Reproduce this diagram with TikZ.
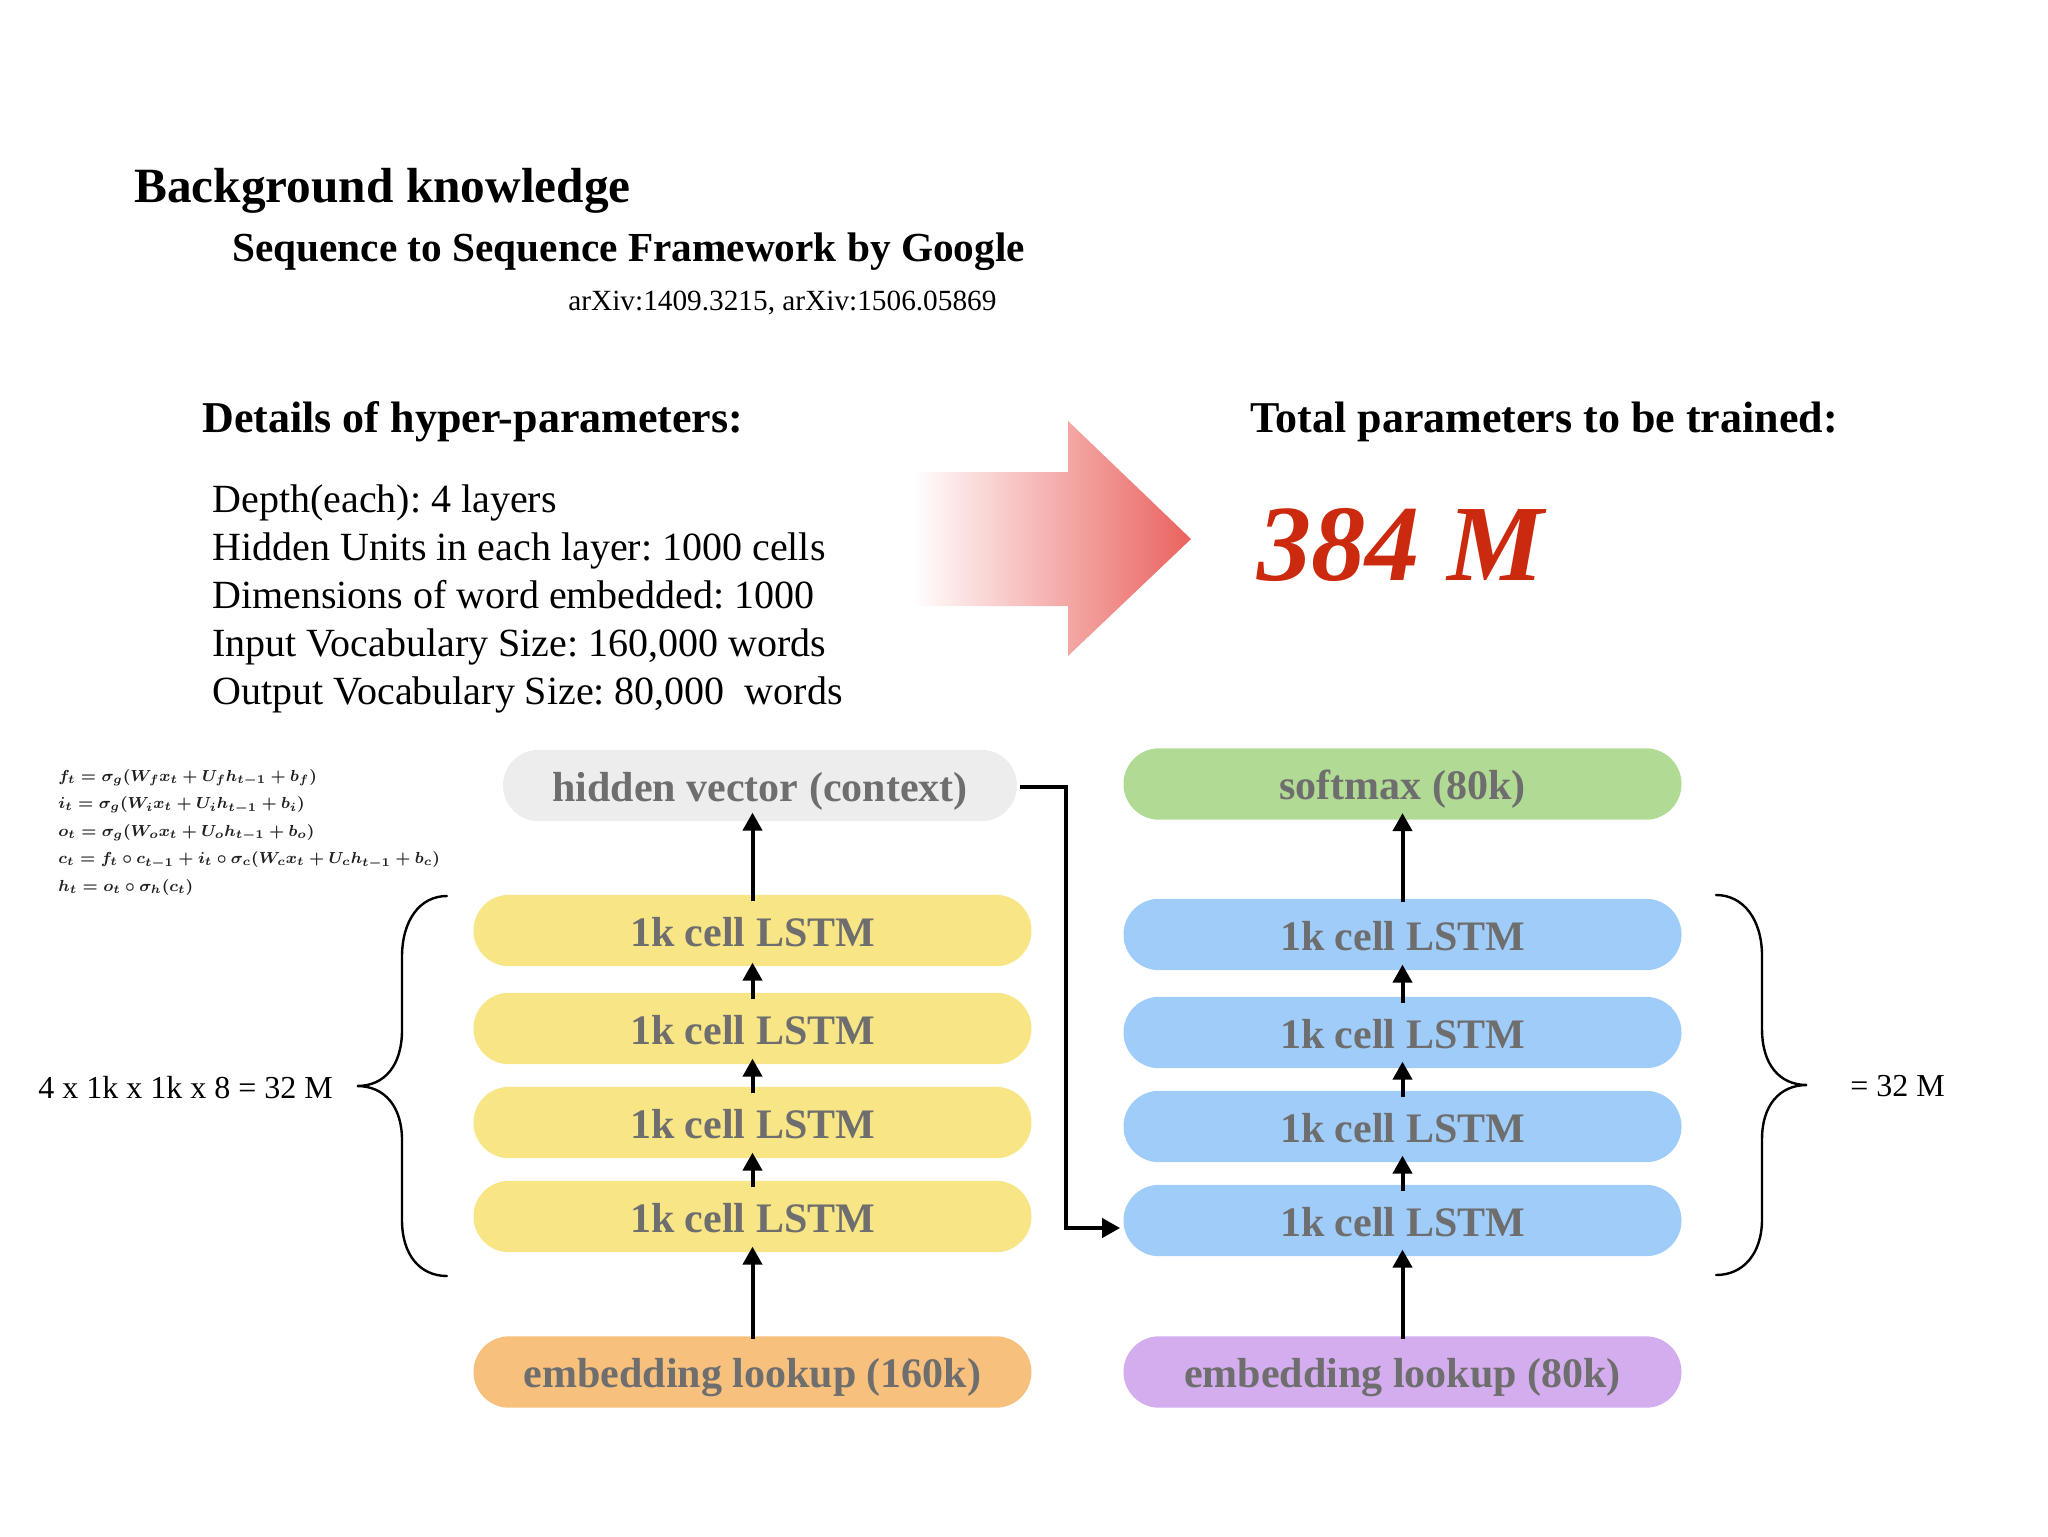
\documentclass[tikz,border=0pt]{standalone}
\usepackage{amsmath}
\usepackage{fontspec}
\setmainfont{Liberation Serif}
\usetikzlibrary{arrows.meta}
\definecolor{pillgrey}{HTML}{EDEDED}
\definecolor{pillgreen}{HTML}{B1DA94}
\definecolor{pillyellow}{HTML}{F8E585}
\definecolor{pillblue}{HTML}{A0CCFA}
\definecolor{pillorange}{HTML}{F7C07C}
\definecolor{pillpurple}{HTML}{D3ADEE}
\definecolor{pilltext}{HTML}{6E6E6E}
\definecolor{bigred}{HTML}{CC2A0E}
\definecolor{arrowred}{HTML}{EA625E}
\tikzset{
  pill/.style={rectangle,rounded corners=17.8pt,minimum width=279pt,minimum height=35.7pt,inner sep=0pt,text=pilltext,text height=15.9pt,text depth=0pt,font=\fontsize{21}{24}\selectfont\bfseries},
  flow/.style={line width=2pt,-{Triangle[length=9pt,width=9.5pt]}},
  bracestyle/.style={line width=1.2pt,line cap=round},
  lefttext/.style={anchor=base west,inner sep=0pt},
  plain/.style={anchor=base west,inner sep=0pt,font=\fontsize{16}{18}\selectfont},
  eqline/.style={anchor=base west,inner sep=0pt,text=black!88,font=\fontsize{8.08}{10}\selectfont\boldmath},
}
\begin{document}
\begin{tikzpicture}[x=0.5pt,y=-0.5pt]
\useasboundingbox (0,0) rectangle (2048,1536);
% arrow
\shade[left color=white,right color=arrowred,shading angle=90,draw=none]
  (912,472) -- (1068,472) -- (1068,421) -- (1191,539) -- (1068,656) -- (1068,606) -- (912,606) -- cycle;
% texts
\frenchspacing
\node[lefttext,font=\fontsize{24.65}{26}\selectfont\bfseries] (title) at (134,202) {Background knowledge};
\node[lefttext,font=\fontsize{20.65}{22}\selectfont\bfseries] (sub) at (232,261.5) {Sequence to Sequence Framework by Google};
\node[lefttext,font=\fontsize{14.65}{17}\selectfont] (arx) at (568,310) {arXiv:1409.3215, arXiv:1506.05869};
\node[lefttext,font=\fontsize{22}{24}\selectfont\bfseries] (det) at (202,432) {Details of hyper-parameters:};
\node[lefttext,font=\fontsize{22}{24}\selectfont\bfseries] (tot) at (1250,432) {Total parameters to be trained:};
\node[lefttext,font=\fontsize{20}{22}\selectfont] (d1) at (212,512.5) {Depth(each): 4 layers};
\node[lefttext,font=\fontsize{20}{22}\selectfont] (d2) at (212,560.5) {Hidden Units in each layer: 1000 cells};
\node[lefttext,font=\fontsize{20}{22}\selectfont] (d3) at (212,608.5) {Dimensions of word embedded: 1000};
\node[lefttext,font=\fontsize{20}{22}\selectfont] (d4) at (212,656.5) {Input Vocabulary Size: 160,000 words};
\node[lefttext,font=\fontsize{20}{22}\selectfont] (d5) at (212,704.5) {Output Vocabulary Size: 80,000\ \ words};
\node[lefttext,font=\fontsize{54.2}{56}\selectfont\bfseries\itshape,text=bigred] (big) at (1257,580) {384 M};
\node[plain] (l4) at (38,1098) {4 x 1k x 1k x 8 = 32 M};
\node[plain] (r32) at (1850,1096) {= 32 M};
% formula
\node[eqline] (e1) at (58,781) {$f_t=\sigma_g(W_fx_t+U_fh_{t-1}+b_f)$};
\node[eqline] (e2) at (58,808.5) {$i_t=\sigma_g(W_ix_t+U_ih_{t-1}+b_i)$};
\node[eqline] (e3) at (58,836) {$o_t=\sigma_g(W_ox_t+U_oh_{t-1}+b_o)$};
\node[eqline] (e4) at (58,863.5) {$c_t=f_t\circ c_{t-1}+i_t\circ\sigma_c(W_cx_t+U_ch_{t-1}+b_c)$};
\node[eqline] (e5) at (58,891) {$h_t=o_t\circ\sigma_h(c_t)$};
% pills
\node[pill,fill=pillgrey,minimum width=257pt] (hv) at (760,785.5) {hidden vector (context)};
\node[pill,fill=pillyellow] (y4) at (752.5,930.5) {1k cell LSTM};
\node[pill,fill=pillyellow] (y3) at (752.5,1028.5) {1k cell LSTM};
\node[pill,fill=pillyellow] (y2) at (752.5,1122.5) {1k cell LSTM};
\node[pill,fill=pillyellow] (y1) at (752.5,1216.5) {1k cell LSTM};
\node[pill,fill=pillorange] (eo) at (752.5,1372) {embedding lookup (160k)};
\node[pill,fill=pillgreen] (sm) at (1402.5,784) {softmax (80k)};
\node[pill,fill=pillblue] (b4) at (1402.5,934.5) {1k cell LSTM};
\node[pill,fill=pillblue] (b3) at (1402.5,1032.5) {1k cell LSTM};
\node[pill,fill=pillblue] (b2) at (1402.5,1126.5) {1k cell LSTM};
\node[pill,fill=pillblue] (b1) at (1402.5,1220.5) {1k cell LSTM};
\node[pill,fill=pillpurple] (ep) at (1402.5,1372) {embedding lookup (80k)};
% connectors
\draw[flow] ([yshift=-1.5pt]eo.north) -- ([yshift=3pt]y1.south);
\draw[flow] ([yshift=-3.5pt]y1.north) -- ([yshift=3pt]y2.south);
\draw[flow] ([yshift=-3.5pt]y2.north) -- ([yshift=3pt]y3.south);
\draw[flow] ([yshift=-3.5pt]y3.north) -- ([yshift=2pt]y4.south);
\draw[flow] ([yshift=-3.5pt]y4.north) -- ([yshift=4.5pt]y4.north |- hv.south);
\draw[flow] ([yshift=-1.5pt]ep.north) -- ([yshift=3.5pt]b1.south);
\draw[flow] ([yshift=-3.5pt]b1.north) -- ([yshift=3.5pt]b2.south);
\draw[flow] ([yshift=-3.5pt]b2.north) -- ([yshift=3.5pt]b3.south);
\draw[flow] ([yshift=-3.5pt]b3.north) -- ([yshift=3pt]b4.south);
\draw[flow] ([yshift=-2pt]b4.north) -- ([yshift=3.5pt]sm.south);
\coordinate (c1) at (1066,787);
\coordinate (c2) at (1066,1228);
\draw[flow] ([xshift=1.5pt]c1 -| hv.east) -- (c1) -- (c2) -- ([xshift=-1.5pt]c2 -| b1.west);
% braces
\draw[bracestyle] (447,896) .. controls (420,896) and (402,920) .. (402,957) -- (402,1030) .. controls (402,1065) and (385,1086) .. (357,1086) .. controls (385,1086) and (402,1107) .. (402,1140) -- (402,1220) .. controls (402,1255) and (420,1276) .. (447,1276);
\draw[bracestyle] (1716,895) .. controls (1743,895) and (1762,919) .. (1762,956) -- (1762,1029) .. controls (1762,1064) and (1779,1085) .. (1807,1085) .. controls (1779,1085) and (1762,1106) .. (1762,1139) -- (1762,1219) .. controls (1762,1254) and (1743,1275) .. (1716,1275);
\end{tikzpicture}
\end{document}
